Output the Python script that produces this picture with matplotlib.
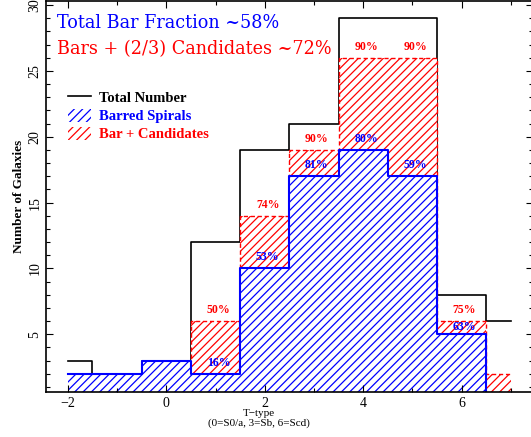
import matplotlib
matplotlib.use("Agg")
import matplotlib.pyplot as plt
from matplotlib.lines import Line2D
from matplotlib.patches import Patch

plt.rcParams['font.family'] = ['Liberation Serif', 'DejaVu Serif']
plt.rcParams['hatch.linewidth'] = 0.9

# T-type histogram counts
ttype = [-2, -1, 0, 1, 2, 3, 4, 5, 6, 7]
total = [3, 2, 3, 12, 19, 21, 29, 29, 8, 6]
bar_cand = [2, 2, 3, 6, 14, 19, 26, 26, 6, 2]
barred = [2, 2, 3, 2, 10, 17, 19, 17, 5, 0]

# percentage labels (T = 1..6)
pct_types = [1, 2, 3, 4, 5, 6]
pct_red = ["50%", "74%", "90%", "90%", "90%", "75%"]
pct_blue = ["16%", "53%", "81%", "80%", "59%", "63%"]

fig = plt.figure(figsize=(5.31, 4.37), dpi=100)
ax = fig.add_axes([0.0861, 0.1037, 0.9177, 0.8929])

ax.step(ttype, total, where='mid', color='black', lw=1.2, zorder=1.0)

ax.fill_between(ttype, 0, bar_cand, step='mid', facecolor='white',
                edgecolor='red', hatch='////', linewidth=0, zorder=1.1)
ax.step(ttype, bar_cand, where='mid', color='red', lw=1.0,
        ls=(0, (3, 2)), zorder=1.2)

ax.fill_between(ttype, 0, barred, step='mid', facecolor='white',
                edgecolor='blue', hatch='////', linewidth=0, zorder=1.3)
ax.step(ttype, barred, where='mid', color='blue', lw=1.5, zorder=1.4)

for t, lr, lb in zip(pct_types, pct_red, pct_blue):
    r = bar_cand[ttype.index(t)]
    b = barred[ttype.index(t)]
    ax.text(t + 0.06, r + 0.85, lr, color='red', fontsize=8.5, fontweight='bold',
            ha='center', va='center', zorder=3)
    ax.text(t + 0.06, min(b + 0.85, r - 0.45), lb, color='blue', fontsize=8.5,
            fontweight='bold', ha='center', va='center', zorder=3)

ax.text(-2.22, 28.65, "Total Bar Fraction ~58%", color='blue', fontsize=12.7,
        va='center', ha='left', family='DejaVu Serif')
ax.text(-2.22, 26.69, "Bars + (2/3) Candidates ~72%", color='red', fontsize=12.7,
        va='center', ha='left', family='DejaVu Serif')

handles = [Line2D([], [], color='black', lw=1.2),
           Patch(facecolor='white', edgecolor='blue', hatch='////', lw=0),
           Patch(facecolor='white', edgecolor='red', hatch='////', lw=0)]
leg = ax.legend(handles, ["Total Number", "Barred Spirals", "Bar + Candidates"],
                loc='upper left', bbox_to_anchor=(0.0458, 0.772), frameon=False,
                borderpad=0, borderaxespad=0, handlelength=1.6, handleheight=1.0,
                handletextpad=0.5, labelspacing=0.25,
                prop={'weight': 'bold', 'size': 10.5},
                labelcolor=['black', 'blue', 'red'])

ax.set_xlim(-2.45, 7.45)
ax.set_ylim(0.64, 30.27)
ax.set_xticks([-2, 0, 2, 4, 6])
ax.set_xticks(range(-2, 8), minor=True)
ax.set_yticks([5, 10, 15, 20, 25, 30])
ax.set_yticks(range(1, 31), minor=True)
ax.tick_params(which='both', direction='in', top=True, right=True, width=0.8,
               labelsize=10)
ax.tick_params(which='major', length=5)
ax.tick_params(which='minor', length=3)
ax.tick_params(axis='x', which='major', pad=4)
ax.tick_params(axis='y', which='major', pad=3)
for lab in ax.get_yticklabels():
    lab.set_rotation(90)
    lab.set_va('center')
for s in ax.spines.values():
    s.set_linewidth(1.2)

ax.set_ylabel("Number of Galaxies", fontsize=9.5, fontweight='bold')
ax.yaxis.set_label_coords(-0.043, 0.5)
ax.set_xlabel("T\u2212type\n(0=S0/a, 3=Sb, 6=Scd)", fontsize=8, linespacing=1.0)
ax.xaxis.set_label_coords(0.4377, -0.045)

fig.savefig("out.png", dpi=100)
